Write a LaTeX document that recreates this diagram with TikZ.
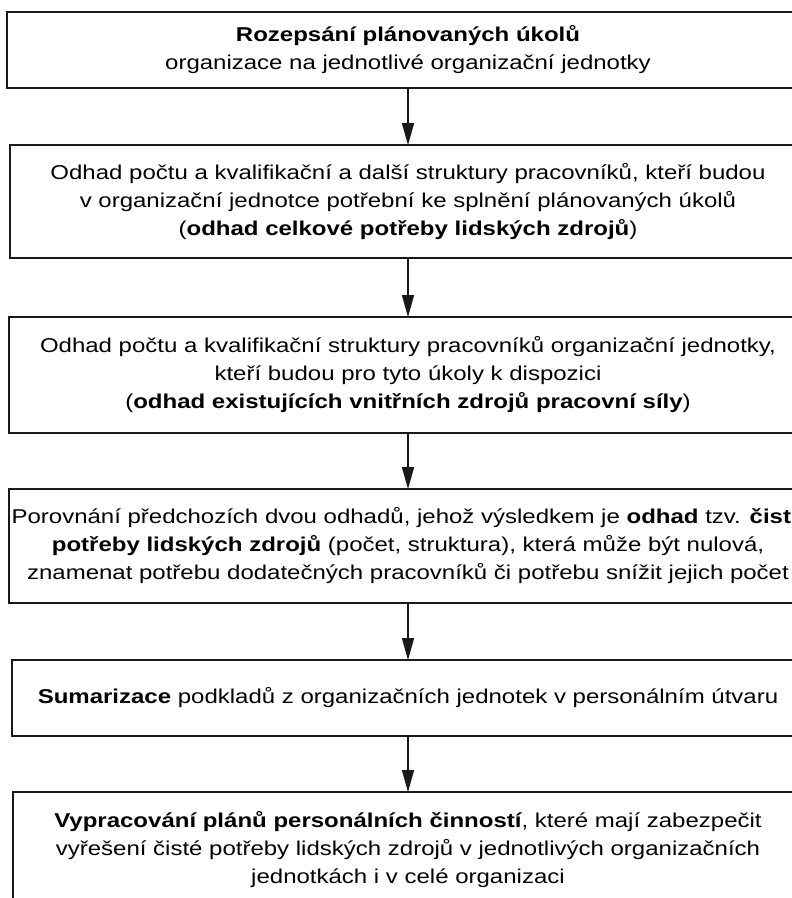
\documentclass[tikz,border=0pt]{standalone}
\usepackage{fontspec}
\setmainfont{Liberation Sans}[FakeStretch=1.2]
\usetikzlibrary{arrows.meta}
\begin{document}
\begin{tikzpicture}[x=1pt,y=-1pt,
  box/.style={draw=black!90, line width=1.8pt, rectangle, align=center, inner sep=0pt,
    font=\fontsize{20}{28}\selectfont},
  flow/.style={draw=black!90, line width=1.3pt, -{Triangle[length=22pt,width=12pt]}, shorten >=-1pt}]
\useasboundingbox (0,0) rectangle (792,898);
\node[box, minimum width=802, minimum height=76] (b1) at (408,50)
  {\textbf{Rozepsání plánovaných úkolů}\\organizace na jednotlivé organizační jednotky};
\node[box, minimum width=796, minimum height=113] (b2) at (408,201.5)
  {Odhad počtu a kvalifikační a další struktury pracovníků, kteří budou\\
   v organizační jednotce potřební ke splnění plánovaných úkolů\\
   (\textbf{odhad celkové potřeby lidských zdrojů})};
\node[box, minimum width=798, minimum height=116] (b3) at (408,375)
  {Odhad počtu a kvalifikační struktury pracovníků organizační jednotky,\\
   kteří budou pro tyto úkoly k dispozici\\
   (\textbf{odhad existujících vnitřních zdrojů pracovní síly})};
\node[box, minimum width=798, minimum height=114] (b4) at (408,546)
  {Porovnání předchozích dvou odhadů, jehož výsledkem je \textbf{odhad} tzv. \textbf{čisté}\\
   \textbf{potřeby lidských zdrojů} (počet, struktura), která může být nulová,\\
   znamenat potřebu dodatečných pracovníků či potřebu snížit jejich počet};
\node[box, minimum width=792, minimum height=76] (b5) at (408,698)
  {\textbf{Sumarizace} podkladů z organizačních jednotek v personálním útvaru};
\node[box, minimum width=790, minimum height=116] (b6) at (408,850)
  {\textbf{Vypracování plánů personálních činností}, které mají zabezpečit\\
   vyřešení čisté potřeby lidských zdrojů v jednotlivých organizačních\\
   jednotkách i v celé organizaci};
\draw[flow] (b1.south) -- (b2.north);
\draw[flow] (b2.south) -- (b3.north);
\draw[flow] (b3.south) -- (b4.north);
\draw[flow] (b4.south) -- (b5.north);
\draw[flow] (b5.south) -- (b6.north);
\end{tikzpicture}
\end{document}
